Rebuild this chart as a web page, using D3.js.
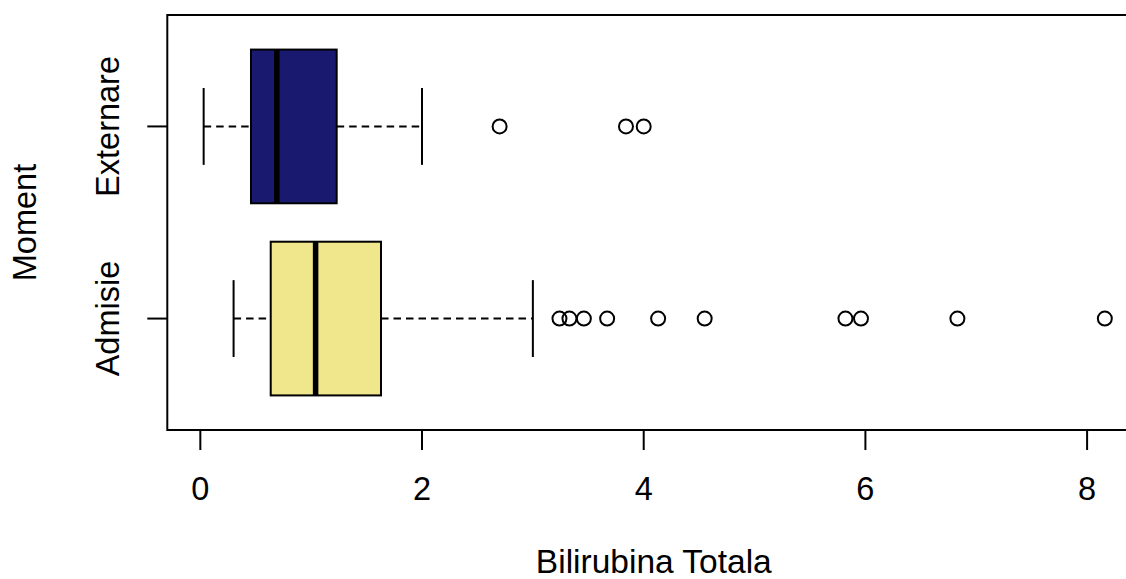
<!DOCTYPE html>
<html>
<head>
<meta charset="utf-8">
<script src="https://cdn.jsdelivr.net/npm/d3@7"></script>
<style>
  html, body { margin: 0; padding: 0; background: #fff; }
  svg { display: block; }
  text { font-family: "Liberation Sans", Arial, Helvetica, sans-serif; fill: #000; }
</style>
</head>
<body>
<svg id="chart" width="1126" height="579"></svg>
<script>
// ---- data ----
const categories = ["Admisie", "Externare"];
const whiskerLow = [0.30, 0.03];
const q1 = [0.635, 0.457];
const median = [1.04, 0.69];
const q3 = [1.63, 1.23];
const whiskerHigh = [3.00, 2.00];
const outliersAdmisie = [3.24, 3.33, 3.46, 3.67, 4.13, 4.55, 5.82, 5.96, 6.83, 8.16];
const outliersExternare = [2.70, 3.84, 4.00];
const outliers = [outliersAdmisie, outliersExternare];
const fills = ["#F0E68C", "#191970"];
const xTicks = [0, 2, 4, 6, 8];
const xTitle = "Bilirubina Totala";
const yTitle = "Moment";

// ---- layout ----
const svg = d3.select("#chart");
const plotLeft = 167.3, plotTop = 15, plotBottom = 430;
const x = d3.scaleLinear().domain([-0.298, 8.48]).range([plotLeft, 1140.3]);
const y = d3.scaleLinear().domain([0.42, 2.58]).range([plotBottom, plotTop]);
const halfBox = 0.4, halfCap = 0.2;
const fs = 32.5;

const g = svg.append("g");

categories.forEach((cat, i) => {
  const pos = i + 1;
  const cy = y(pos);
  // whiskers (dashed)
  g.append("line")
    .attr("x1", x(whiskerLow[i])).attr("x2", x(q1[i]))
    .attr("y1", cy).attr("y2", cy)
    .attr("stroke", "#000").attr("stroke-width", 2).attr("stroke-dasharray", "7.5,5");
  g.append("line")
    .attr("x1", x(q3[i])).attr("x2", x(whiskerHigh[i]))
    .attr("y1", cy).attr("y2", cy)
    .attr("stroke", "#000").attr("stroke-width", 2).attr("stroke-dasharray", "7.5,5");
  // caps
  [whiskerLow[i], whiskerHigh[i]].forEach(v => {
    g.append("line")
      .attr("x1", x(v)).attr("x2", x(v))
      .attr("y1", y(pos + halfCap)).attr("y2", y(pos - halfCap))
      .attr("stroke", "#000").attr("stroke-width", 2);
  });
  // box
  g.append("rect")
    .attr("x", x(q1[i])).attr("width", x(q3[i]) - x(q1[i]))
    .attr("y", y(pos + halfBox)).attr("height", y(pos - halfBox) - y(pos + halfBox))
    .attr("fill", fills[i]).attr("stroke", "#000").attr("stroke-width", 2);
  // median
  g.append("line")
    .attr("x1", x(median[i])).attr("x2", x(median[i]))
    .attr("y1", y(pos + halfBox)).attr("y2", y(pos - halfBox))
    .attr("stroke", "#000").attr("stroke-width", 5.5);
  // outliers
  g.selectAll(null).data(outliers[i]).enter().append("circle")
    .attr("cx", d => x(d)).attr("cy", cy).attr("r", 7)
    .attr("fill", "none").attr("stroke", "#000").attr("stroke-width", 2);
});

// frame
svg.append("rect")
  .attr("x", plotLeft).attr("y", plotTop)
  .attr("width", x.range()[1] - plotLeft).attr("height", plotBottom - plotTop)
  .attr("fill", "none").attr("stroke", "#000").attr("stroke-width", 2);

// x axis
const xAxis = svg.append("g");
xTicks.forEach(t => {
  xAxis.append("line")
    .attr("x1", x(t)).attr("x2", x(t)).attr("y1", plotBottom).attr("y2", plotBottom + 20)
    .attr("stroke", "#000").attr("stroke-width", 2);
  xAxis.append("text")
    .attr("x", x(t)).attr("y", 500).attr("text-anchor", "middle")
    .attr("font-size", fs).text(t);
});

// y axis
categories.forEach((cat, i) => {
  const cy = y(i + 1);
  svg.append("line")
    .attr("x1", plotLeft - 20).attr("x2", plotLeft).attr("y1", cy).attr("y2", cy)
    .attr("stroke", "#000").attr("stroke-width", 2);
  svg.append("text")
    .attr("transform", `translate(119,${cy}) rotate(-90)`)
    .attr("text-anchor", "middle").attr("font-size", fs).text(cat);
});

// titles
svg.append("text")
  .attr("x", (plotLeft + x.range()[1]) / 2).attr("y", 573)
  .attr("text-anchor", "middle").attr("font-size", 33.5).text(xTitle);
svg.append("text")
  .attr("transform", `translate(36,${(plotTop + plotBottom) / 2}) rotate(-90)`)
  .attr("text-anchor", "middle").attr("font-size", fs).text(yTitle);
</script>
</body>
</html>
